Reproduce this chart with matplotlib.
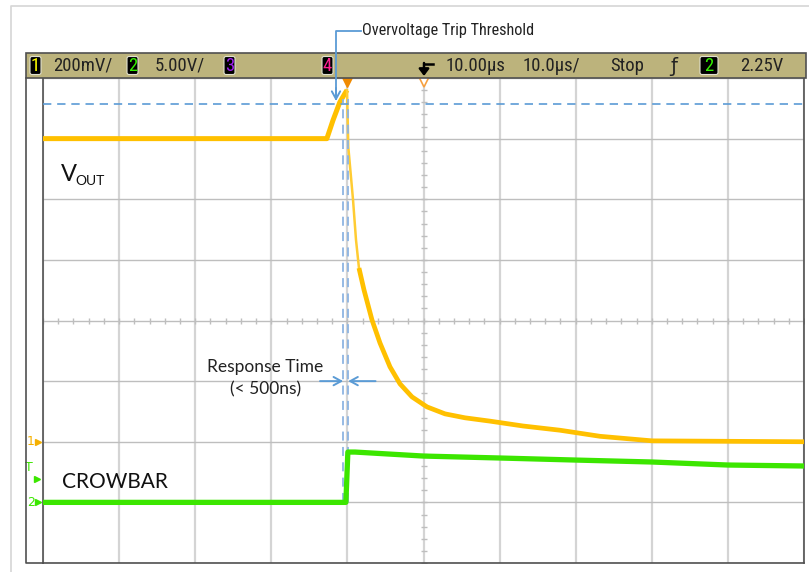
import matplotlib.pyplot as plt
import matplotlib.transforms as mtransforms
from matplotlib.patches import Rectangle, FancyBboxPatch
import numpy as np

# scope settings: 10 us/div (trigger at t=0, delay 10 us), ch1 200 mV/div, ch2 5 V/div
t_lim = (-40, 60)
v1_lim = (-0.4, 1.2)
v2_lim = (-5, 35)

# channel 1 (VOUT), volts vs microseconds
vout_t = [-40, -2.7, -1.9, -1.0, -0.3, -0.05, 0.12, 0.74, 1.13, 1.52, 2.18, 3.23, 4.28,
          5.60, 6.91, 8.49, 10.46, 12.83, 15.45, 18.74, 23.07, 27.94, 33.19, 40.03, 60.0]
vout_v = [1.00, 1.00, 1.06, 1.12, 1.15, 1.16, 0.972, 0.798, 0.666, 0.573, 0.501, 0.402, 0.326,
          0.247, 0.191, 0.148, 0.115, 0.092, 0.079, 0.068, 0.052, 0.038, 0.018, 0.003, 0.0]
peak_idx = 5
fast_end_idx = 9

# channel 2 (CROWBAR)
crow_t = [-40, -0.2, 0.06, 1.0, 10.0, 15.0, 20.0, 30.0, 40.0, 50.0, 60.0]
crow_v = [0.0, 0.0, 4.15, 4.15, 3.82, 3.74, 3.66, 3.49, 3.33, 3.08, 3.0]

threshold_v = 1.115
trip_t = -0.55
resp_t = 0.05
trig_level = 2.25
delay_t = 10.0

ORANGE = '#FFC000'
GREEN = '#3CE600'
BLUE = '#5B9BD5'
KHAKI = '#BCB37C'
narrow = ['Roboto Condensed', 'DejaVu Sans']
body = ['Lato', 'DejaVu Sans']

W, H = 809, 572
fig = plt.figure(figsize=(W / 100, H / 100), dpi=100)

# ---- scope screen ----
ax = fig.add_axes([43 / W, 9 / H, 761 / W, 485 / H])
ax.set_xlim(*t_lim)
ax.set_ylim(*v1_lim)
ax.set_xticks(np.arange(-40, 61, 10))
ax.set_yticks(np.arange(-0.4, 1.21, 0.2))
ax.tick_params(length=0, labelbottom=False, labelleft=False)
ax.xaxis.grid(True, color='#D4D4D4', lw=1.6)
ax.yaxis.grid(True, color='#BEBEBE', lw=1.0)
ax.set_axisbelow(True)
for s in ['left', 'bottom', 'right']:
    ax.spines[s].set_color('#505050')
    ax.spines[s].set_linewidth(1.2)
ax.spines['top'].set_visible(False)

# minor ticks on the centre lines
ax.plot(np.arange(-40, 60.1, 2), np.full(51, 0.4), ls='none', marker='|', ms=5,
        color='#BEBEBE', mew=1)
ax.plot(np.full(41, delay_t), np.arange(-0.4, 1.201, 0.04), ls='none', marker='_', ms=5,
        color='#BEBEBE', mew=1)

ax2 = ax.twinx()
ax2.set_ylim(*v2_lim)
ax2.axis('off')

# traces
ax.plot(vout_t[:peak_idx + 1], vout_v[:peak_idx + 1], color=ORANGE, lw=3.6,
        solid_capstyle='butt', zorder=4)
ax.plot(vout_t[peak_idx:fast_end_idx + 1], vout_v[peak_idx:fast_end_idx + 1],
        color='#FFCC33', lw=1.8, zorder=4)
ax.plot(vout_t[fast_end_idx:], vout_v[fast_end_idx:], color=ORANGE, lw=3.4,
        solid_capstyle='butt', solid_joinstyle='round', zorder=4)
ax2.plot(crow_t, crow_v, color=GREEN, lw=3.8, solid_capstyle='butt', zorder=4)

# annotations: threshold line, trip markers, response arrows
ax.axhline(threshold_v, color=BLUE, lw=1.2, ls=(0, (5, 3.5)), zorder=5)
ax.vlines([trip_t, resp_t], -0.2, 1.13, color='#8DB4E2', lw=1.3, ls=(0, (5, 3.5)), zorder=5)
aprops = dict(arrowstyle='->,head_length=0.55,head_width=0.3', color=BLUE, lw=1.4,
              shrinkA=0, shrinkB=0)
ax.annotate('', xy=(trip_t, 0.2), xytext=(-3.6, 0.2), arrowprops=aprops, zorder=6)
ax.annotate('', xy=(resp_t + 0.05, 0.2), xytext=(3.7, 0.2), arrowprops=aprops, zorder=6)
ax.text(-10.8, 0.247, 'Response Time', ha='center', va='center', fontsize=12.5,
        family=body, color='#222222')
ax.text(-10.8, 0.172, '(< 500ns)', ha='center', va='center', fontsize=12.5,
        family=body, color='#222222')

# channel labels
ax.text(-37.6, 0.883, 'V', ha='left', va='center', fontsize=17, family=body,
        color='#111111')
ax.text(-35.75, 0.86, 'OUT', ha='left', va='center', fontsize=10, family=body,
        color='#111111')
ax2.text(-37.5, 1.68, 'CROWBAR', ha='left', va='center', fontsize=15, family=body,
         color='#111111')

# trigger position markers at top of screen
top = mtransforms.blended_transform_factory(ax.transData, ax.transAxes)
ax.plot([0], [0.993], transform=top, marker='v', ms=8, color='#F08A00', clip_on=False, zorder=7)
ax.plot([delay_t], [0.993], transform=top, marker='v', ms=8, mfc='white', mec='#F5A040',
        mew=1.2, clip_on=False, zorder=7)

# ground / trigger markers in the left strip
left1 = mtransforms.blended_transform_factory(ax.transAxes, ax.transData)
left2 = mtransforms.blended_transform_factory(ax.transAxes, ax2.transData)
ax.text(-0.011, 0.0, '1', transform=left1, ha='right', va='center', fontsize=9,
        color='#F5B000', clip_on=False)
ax.plot([-0.007], [0.0], transform=left1, marker='>', ms=5, color='#F5B000', clip_on=False)
ax2.text(-0.011, 0.0, '2', transform=left2, ha='right', va='center', fontsize=9,
         color=GREEN, clip_on=False)
ax2.plot([-0.007], [0.0], transform=left2, marker='>', ms=5, color=GREEN, clip_on=False)
ax2.text(-0.013, trig_level + 0.6, 'T', transform=left2, ha='right', va='center',
         fontsize=9, color=GREEN, clip_on=False)
ax2.plot([-0.008], [trig_level - 0.3], transform=left2, marker='>', ms=5, color=GREEN,
         clip_on=False)

# ---- frame, status bar and call-out (pixel overlay) ----
ov = fig.add_axes([0, 0, 1, 1])
ov.set_xlim(0, W)
ov.set_ylim(H, 0)
ov.axis('off')
ov.patch.set_visible(False)

ov.plot([11, 11, W], [H, 6, 6], color='#D6D6D6', lw=1.2)
ov.add_patch(Rectangle((26, 53), 780, 25, facecolor=KHAKI, edgecolor='#505050', lw=1.2))
ov.plot([26, 26, 43], [78, 563, 563], color='#505050', lw=1.2)

def chan_box(x0, w, label, col):
    ov.add_patch(FancyBboxPatch((x0, 56.5), w, 18, boxstyle='round,pad=0,rounding_size=2',
                                facecolor='black', edgecolor='#E0E0D0', lw=0.8))
    ov.text(x0 + w / 2, 66, label, color=col, ha='center', va='center', fontsize=13.5,
            family=narrow, stretch='condensed')

chan_box(30, 11, '1', '#FFFF00')
chan_box(127, 11, '2', '#33EE00')
chan_box(224, 11, '3', '#A020F0')
chan_box(322, 11, '4', '#FF2090')
chan_box(700, 18, '2', '#33EE00')

status = [(83, '200mV/'), (180, '5.00V/'), (476, '10.00µs'), (551, '10.0µs/'),
          (627, 'Stop'), (762, '2.25V')]
for x, s in status:
    ov.text(x, 66, s, ha='center', va='center', fontsize=13.5, family=narrow,
            stretch='condensed', color='#222222')
ov.text(674, 66, 'ƒ', ha='center', va='center', fontsize=14, color='#222222')

# trigger-delay glyph
ov.plot([424, 433], [64, 64], color='black', lw=1.8)
ov.annotate('', xy=(424, 76), xytext=(424, 63),
            arrowprops=dict(arrowstyle='-|>,head_length=0.4,head_width=0.3', color='black',
                            lw=1.8, shrinkA=0, shrinkB=0))

# overvoltage call-out
ov.plot([361, 336, 336], [31, 31, 99], color=BLUE, lw=1.3)
ov.annotate('', xy=(336, 101), xytext=(336, 88),
            arrowprops=dict(arrowstyle='->,head_length=0.55,head_width=0.3', color=BLUE,
                            lw=1.4, shrinkA=0, shrinkB=0))
ov.text(362, 30, 'Overvoltage Trip Threshold', ha='left', va='center', fontsize=11.7,
        family=narrow, stretch='condensed', color='#222222')

fig.savefig('out.png', dpi=100)
